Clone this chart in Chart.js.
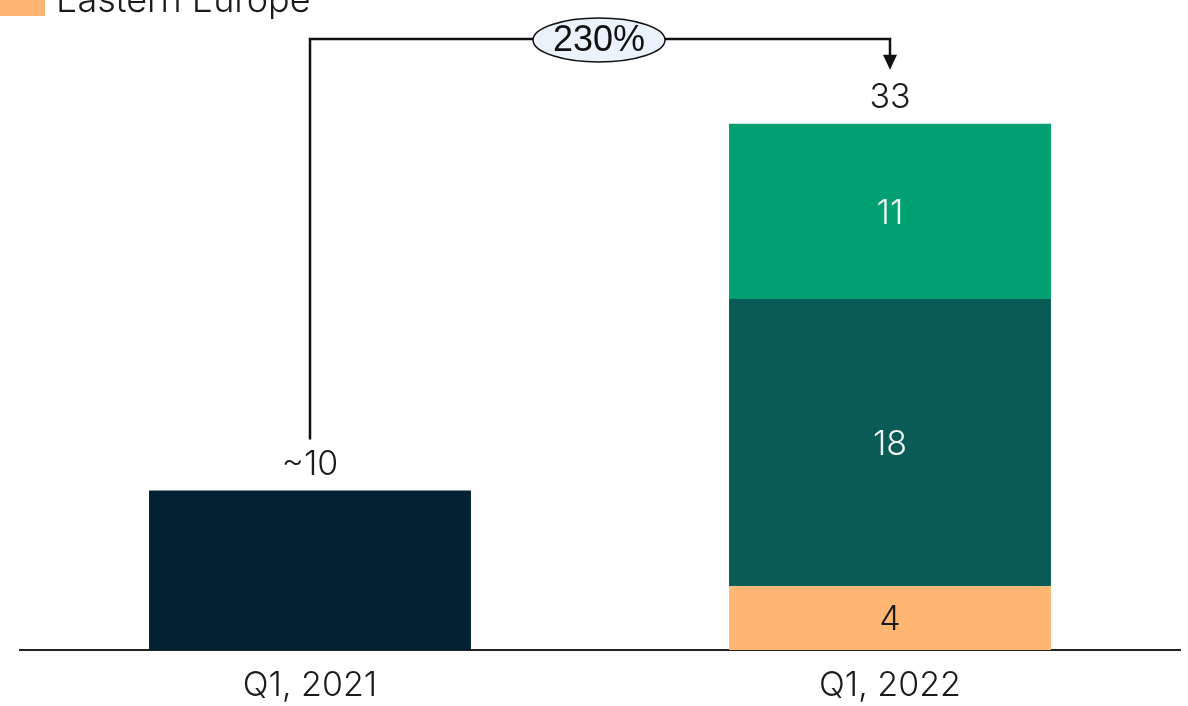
<!DOCTYPE html>
<html>
<head>
<meta charset="utf-8">
<script src="https://cdn.jsdelivr.net/npm/chart.js@4.4.1/dist/chart.umd.min.js"></script>
<style>
  html, body { margin: 0; padding: 0; background: #fff; overflow: hidden; }
  #wrap { width: 1188px; height: 706px; position: relative; }
</style>
</head>
<body>
<div id="wrap"><canvas id="growthChart" width="1188" height="706"></canvas></div>
<script>
// data
var categories = ["Q1, 2021", "Q1, 2022"];
var totalQ1_2021 = [10, null];
var easternEurope = [null, 4];
var seriesMid = [null, 18];
var seriesTop = [null, 11];
var totalLabels = ["~10", "33"];

var FONT = "Inter, 'Noto Sans', sans-serif";
var ink = "#1b1b1b";

// value labels, legend stub and the growth arrow
var annotate = {
	id: 'annotate',
	afterDatasetsDraw: function(chart){
		var ctx = chart.ctx;
		var ds = chart.data.datasets;
		ctx.save();
		ctx.font = "300 34px " + FONT;
		ctx.textAlign = "center";
		ctx.textBaseline = "middle";

		// labels inside segments
		for (var d = 1; d < ds.length; d++) {
			var meta = chart.getDatasetMeta(d);
			meta.data.forEach(function(bar, i){
				var v = ds[d].data[i];
				if (v === null) return;
				ctx.fillStyle = ds[d].labelColor;
				ctx.fillText(String(v), bar.x, (bar.y + bar.base) / 2 + 2);
			});
		}

		// totals above bars
		var tops = [];
		categories.forEach(function(c, i){
			var top = Infinity, x = 0;
			for (var d = 0; d < ds.length; d++) {
				if (ds[d].data[i] === null) continue;
				var b = chart.getDatasetMeta(d).data[i];
				top = Math.min(top, b.y); x = b.x;
			}
			tops.push({x: x, y: top});
			ctx.fillStyle = ink;
			ctx.fillText(totalLabels[i], x, top - 26);
		});

		// growth connector
		var lineY = chart.chartArea.top + 27;
		var t0 = tops[0], t1 = tops[1];
		ctx.strokeStyle = "#111";
		ctx.lineWidth = 2.5;
		ctx.beginPath();
		ctx.moveTo(t0.x, t0.y - 51);
		ctx.lineTo(t0.x, lineY);
		ctx.lineTo(t1.x, lineY);
		ctx.lineTo(t1.x, t1.y - 68);
		ctx.stroke();
		ctx.fillStyle = "#111";
		ctx.beginPath();
		ctx.moveTo(t1.x - 7, t1.y - 69);
		ctx.lineTo(t1.x + 7, t1.y - 69);
		ctx.lineTo(t1.x, t1.y - 54);
		ctx.closePath();
		ctx.fill();

		var first = 10, last = 33;
		var growth = Math.round((last - first) / first * 100) + "%";
		var ex = 599;
		ctx.beginPath();
		ctx.ellipse(ex, lineY + 1, 66, 22, 0, 0, Math.PI * 2);
		ctx.fillStyle = "#eaf2fb";
		ctx.fill();
		ctx.lineWidth = 1.5;
		ctx.stroke();
		ctx.fillStyle = "#111";
		ctx.font = "36px 'Liberation Sans', Arial, sans-serif";
		ctx.fillText(growth, ex, lineY + 2);

		// legend entry, cut off at the top edge like the source
		ctx.fillStyle = ds[1].backgroundColor;
		ctx.fillRect(0, -20, 45, 36);
		ctx.fillStyle = ink;
		ctx.font = "300 36px " + FONT;
		ctx.textAlign = "left";
		ctx.textBaseline = "alphabetic";
		ctx.fillText(ds[1].label, 56, 12);
		ctx.restore();
	}
};

var ctx = document.getElementById("growthChart").getContext('2d');
new Chart(ctx, {
	type: 'bar',
	data: {
		labels: categories,
		datasets: [
			{ label: "Q1 2021", data: totalQ1_2021, backgroundColor: "#022233", labelColor: "#fff" },
			{ label: "Eastern Europe", data: easternEurope, backgroundColor: "#ffb773", labelColor: ink },
			{ label: "Segment 2", data: seriesMid, backgroundColor: "#0a5a55", labelColor: "#eef6f2" },
			{ label: "Segment 3", data: seriesTop, backgroundColor: "#00a070", labelColor: "#eef6f2" }
		]
	},
	options: {
		responsive: false,
		animation: false,
		maintainAspectRatio: false,
		layout: { padding: { left: 20, right: 8, top: 12, bottom: 0 } },
		datasets: { bar: { barPercentage: 0.555, categoryPercentage: 1, borderWidth: 0 } },
		plugins: { legend: { display: false }, tooltip: { enabled: false } },
		scales: {
			x: {
				stacked: true,
				grid: { display: false, drawTicks: false },
				border: { display: true, color: "#222", width: 2 },
				ticks: { color: ink, padding: 22, font: { family: FONT, size: 34, weight: 300, lineHeight: 0.8 } },
				afterFit: function(scale){ scale.height = 56; }
			},
			y: {
				stacked: true,
				display: false,
				min: 0,
				max: 40
			}
		}
	},
	plugins: [annotate]
});
</script>
</body>
</html>
